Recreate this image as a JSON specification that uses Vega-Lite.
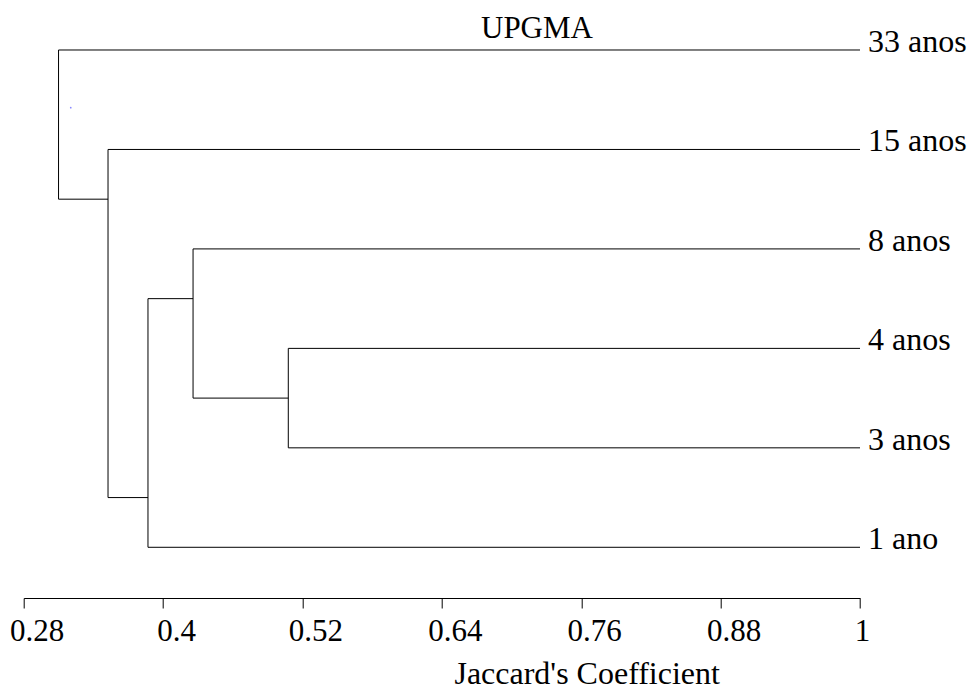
{
  "$schema": "https://vega.github.io/schema/vega-lite/v6.json",
  "width": 836.3,
  "height": 598,
  "autosize": {"type": "none"},
  "padding": {"left": 23.7, "top": 0, "right": 111, "bottom": 93},
  "background": "white",
  "config": {"view": {"stroke": null}, "font": "Liberation Serif"},
  "datasets": {
    "segments": [
      {"x": 0.31, "x2": 1, "y": 0, "y2": 0},
      {"x": 0.3526, "x2": 1, "y": 1, "y2": 1},
      {"x": 0.4258, "x2": 1, "y": 2, "y2": 2},
      {"x": 0.5078, "x2": 1, "y": 3, "y2": 3},
      {"x": 0.5078, "x2": 1, "y": 4, "y2": 4},
      {"x": 0.387, "x2": 1, "y": 5, "y2": 5},
      {"x": 0.5078, "x2": 0.5078, "y": 3, "y2": 4},
      {"x": 0.4258, "x2": 0.4258, "y": 2, "y2": 3.5},
      {"x": 0.387, "x2": 0.387, "y": 2.5, "y2": 5},
      {"x": 0.3526, "x2": 0.3526, "y": 1, "y2": 4.5},
      {"x": 0.31, "x2": 0.31, "y": 0, "y2": 1.5},
      {"x": 0.4258, "x2": 0.5078, "y": 3.5, "y2": 3.5},
      {"x": 0.387, "x2": 0.4258, "y": 2.5, "y2": 2.5},
      {"x": 0.3526, "x2": 0.387, "y": 4.5, "y2": 4.5},
      {"x": 0.31, "x2": 0.3526, "y": 1.5, "y2": 1.5}
    ],
    "leaves": [
      {"label": "33 anos", "pos": 0, "coef": 1},
      {"label": "15 anos", "pos": 1, "coef": 1},
      {"label": "8 anos", "pos": 2, "coef": 1},
      {"label": "4 anos", "pos": 3, "coef": 1},
      {"label": "3 anos", "pos": 4, "coef": 1},
      {"label": "1 ano", "pos": 5, "coef": 1}
    ],
    "heading": [{"text": "UPGMA", "coef": 0.7219, "pos": -0.1176}],
    "dot": [{"x": 0.3205, "y": 0.58}]
  },
  "layer": [
    {
      "data": {"name": "segments"},
      "mark": {"type": "rule", "color": "black", "strokeWidth": 1},
      "encoding": {
        "x": {
          "field": "x",
          "type": "quantitative",
          "scale": {"domain": [0.28, 1], "nice": false, "zero": false},
          "axis": {
            "values": [0.28, 0.4, 0.52, 0.64, 0.76, 0.88, 1],
            "labelExpr": "datum.value + ''",
            "title": "Jaccard's Coefficient",
            "grid": false,
            "domainColor": "black",
            "domainWidth": 1,
            "tickColor": "black",
            "tickWidth": 1,
            "tickSize": 10,
            "labelFont": "Liberation Serif",
            "labelFontSize": 31,
            "labelColor": "black",
            "labelBaseline": "alphabetic",
            "labelAlign": "center",
            "labelPadding": 32,
            "labelOffset": {"condition": {"test": "datum.value === 1", "value": 2}, "value": 13},
            "labelFlush": false,
            "labelOverlap": false,
            "labelBound": false,
            "titleFont": "Liberation Serif",
            "titleFontSize": 32,
            "titleFontWeight": "normal",
            "titleColor": "black",
            "titleBaseline": "alphabetic",
            "titleAlign": "center",
            "titleX": 563,
            "titleY": 85
          }
        },
        "x2": {"field": "x2"},
        "y": {
          "field": "y",
          "type": "quantitative",
          "scale": {"domain": [-0.5027, 5.5098], "nice": false, "zero": false, "reverse": true},
          "axis": null
        },
        "y2": {"field": "y2"}
      }
    },
    {
      "data": {"name": "leaves"},
      "mark": {
        "type": "text",
        "align": "left",
        "baseline": "alphabetic",
        "dx": 8,
        "dy": 2,
        "font": "Liberation Serif",
        "fontSize": 32,
        "color": "black"
      },
      "encoding": {
        "x": {"field": "coef", "type": "quantitative"},
        "y": {"field": "pos", "type": "quantitative"},
        "text": {"field": "label"}
      }
    },
    {
      "data": {"name": "heading"},
      "mark": {
        "type": "text",
        "align": "center",
        "baseline": "alphabetic",
        "font": "Liberation Serif",
        "fontSize": 31,
        "color": "black"
      },
      "encoding": {
        "x": {"field": "coef", "type": "quantitative"},
        "y": {"field": "pos", "type": "quantitative"},
        "text": {"field": "text"}
      }
    },
    {
      "data": {"name": "dot"},
      "mark": {"type": "point", "filled": true, "size": 3, "color": "#6b6bff", "opacity": 0.8},
      "encoding": {
        "x": {"field": "x", "type": "quantitative"},
        "y": {"field": "y", "type": "quantitative"}
      }
    }
  ]
}
